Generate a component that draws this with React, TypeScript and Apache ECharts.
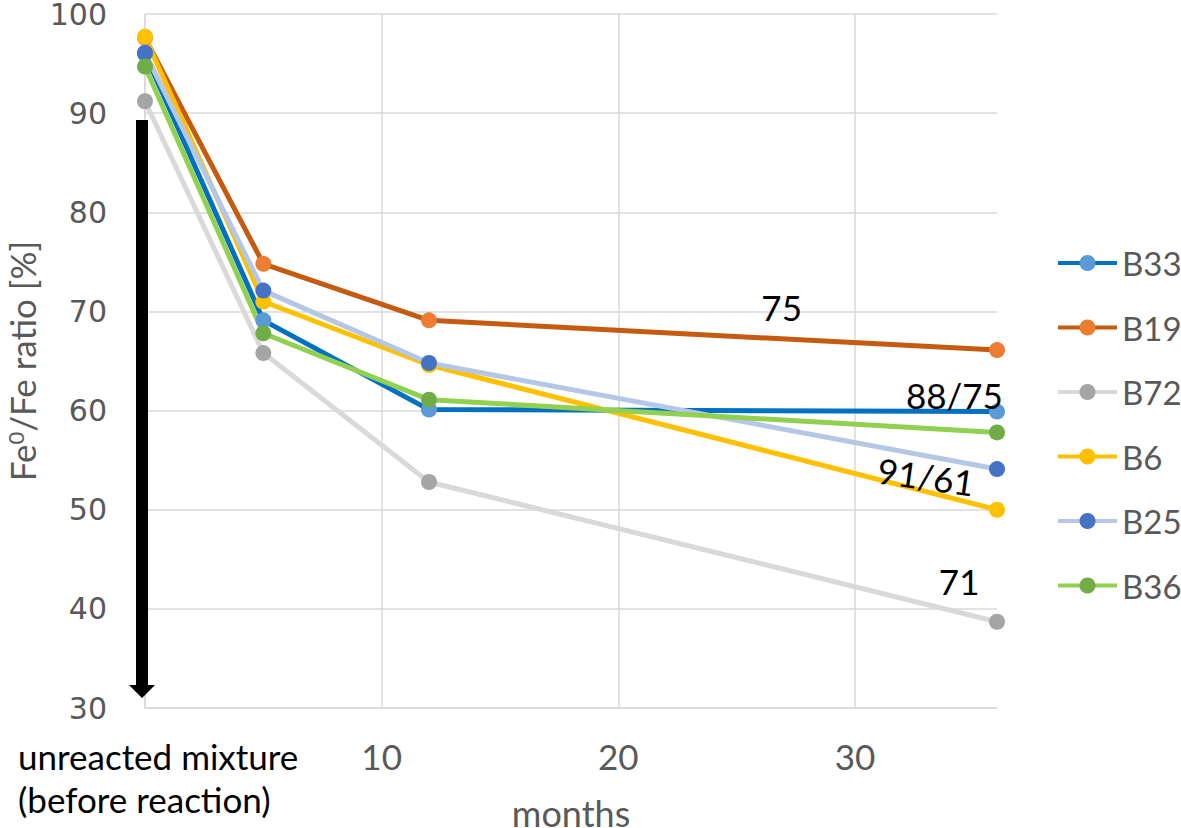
import React, { useEffect, useRef } from "react";
import * as echarts from "echarts";

// x values (months) of the four measurements
const months = [0, 5, 12, 36];
const seriesNames = ["B33", "B19", "B72", "B6", "B25", "B36"];
const b33 = [96.0, 69.1, 60.1, 59.9];
const b19 = [97.6, 74.8, 69.1, 66.1];
const b72 = [91.2, 65.8, 52.8, 38.7];
const b6 = [97.7, 71.0, 64.6, 50.0];
const b25 = [96.1, 72.1, 64.8, 54.1];
const b36 = [94.7, 67.8, 61.1, 57.8];
const allValues = [b33, b19, b72, b6, b25, b36];

const lineColors = ["#0070C0", "#C55A11", "#D9D9D9", "#FFC000", "#B4C7E7", "#92D050"];
const markerColors = ["#5B9BD5", "#ED7D31", "#A5A5A5", "#FFC000", "#4472C4", "#70AD47"];

const firstTickLabel = ["unreacted mixture", "(before reaction)"];
const xAxisName = "months";

// annotations (text, x in months, y in %)
const annotationTexts = ["75", "88/75", "91/61", "71"];
const annotationX = [26.9, 34.2, 33.0, 34.4];
const annotationY = [70.4, 61.6, 53.4, 42.8];
const annotationAngle = [0, 0, -8, 0];

// arrow: from value to value at x = 0
const arrowFrom = 89.3;
const arrowTo = 31.0;

const CAL = "Lato";

export default function App() {
  const ref = useRef<HTMLDivElement>(null);
  useEffect(() => {
    if (!ref.current) return;
    const chart = echarts.init(ref.current, null, { renderer: "svg" });
    const lineSeries = seriesNames.map((name, i) => ({
      name,
      type: "line",
      data: months.map((m, j) => [m, allValues[i][j]]),
      symbol: "circle",
      symbolSize: 16,
      showAllSymbol: true,
      lineStyle: { color: lineColors[i], width: 5 },
      itemStyle: { color: markerColors[i], borderWidth: 0 },
      emphasis: { disabled: true },
      z: 3,
    }));
    chart.setOption({
      animation: false,
      grid: { left: 145, right: 184, top: 14, bottom: 120, containLabel: false, outerBoundsMode: "none" },
      legend: {
        data: seriesNames,
        orient: "vertical",
        left: 1056,
        top: 243,
        padding: 0,
        itemWidth: 59,
        itemHeight: 20,
        itemGap: 24.5,
        lineStyle: { width: 4 },
        textStyle: { fontFamily: CAL, fontSize: 33, color: "#595959", lineHeight: 40 },
      },
      xAxis: {
        type: "value",
        min: 0,
        max: 36,
        interval: 10,
        name: xAxisName,
        nameLocation: "middle",
        nameGap: 90,
        nameMoveOverlap: false,
        nameTextStyle: { fontFamily: CAL, fontSize: 36, color: "#595959", lineHeight: 30 },
        axisLine: { show: true, lineStyle: { color: "#D9D9D9", width: 1.5 } },
        axisTick: { show: false },
        splitLine: { show: true, showMaxLine: false, lineStyle: { color: "#D9D9D9", width: 1.5 } },
        axisLabel: {
          margin: 26,
          fontFamily: CAL,
          fontSize: 35,
          color: "#595959",
          lineHeight: 43,
          formatter: (v: number) => {
            if (v === 0) return firstTickLabel.map((t) => `{u|${t}}`).join("\n");
            if (v % 10 !== 0) return "";
            return String(v);
          },
          rich: {
            u: { fontFamily: CAL, fontSize: 35, color: "#000000", lineHeight: 43, width: 280, align: "left", padding: [0, 0, 0, 26] },
          },
        },
      },
      yAxis: {
        type: "value",
        min: 30,
        max: 100,
        interval: 10,
        name: "Fe{sup|0}/Fe ratio [%]",
        nameLocation: "middle",
        nameGap: 106,
        nameMoveOverlap: false,
        nameTextStyle: {
          fontFamily: CAL,
          fontSize: 35,
          color: "#595959",
          rich: {
            sup: { fontFamily: CAL, fontSize: 22, color: "#595959", verticalAlign: "top", lineHeight: 35 },
          },
        },
        axisLine: { show: true, lineStyle: { color: "#D9D9D9", width: 1.5 } },
        axisTick: { show: false },
        splitLine: { show: true, lineStyle: { color: "#D9D9D9", width: 1.5 } },
        axisLabel: { margin: 38, fontFamily: "DejaVu Sans", fontSize: 30, lineHeight: 28, color: "#595959" },
      },
      series: [
        ...lineSeries,
        {
          name: "arrow",
          type: "custom",
          silent: true,
          z: 5,
          data: [[0, arrowFrom, arrowTo]],
          encode: { x: 0, y: [1, 2] },
          renderItem: (params: any, api: any) => {
            const top = api.coord([api.value(0), api.value(1)]);
            const tip = api.coord([api.value(0), api.value(2)]);
            const cx = top[0] - 3;
            const hw = 6;
            const hh = 13;
            const hl = 13;
            return {
              type: "polygon",
              shape: {
                points: [
                  [cx - hw, top[1]],
                  [cx + hw, top[1]],
                  [cx + hw, tip[1] - hl],
                  [cx + hh, tip[1] - hl],
                  [cx, tip[1]],
                  [cx - hh, tip[1] - hl],
                  [cx - hw, tip[1] - hl],
                ],
              },
              style: { fill: "#000000" },
            };
          },
        },
        {
          name: "notes",
          type: "custom",
          silent: true,
          z: 6,
          data: annotationX.map((x, i) => [x, annotationY[i]]),
          renderItem: (params: any, api: any) => {
            const p = api.coord([api.value(0), api.value(1)]);
            const i = params.dataIndex;
            return {
              type: "text",
              x: p[0],
              y: p[1],
              rotation: (annotationAngle[i] * Math.PI) / 180,
              style: {
                text: annotationTexts[i],
                fontFamily: CAL,
                fontSize: 35,
                fill: "#000000",
                align: "center",
                verticalAlign: "middle",
              },
            };
          },
        },
      ],
    });
    return () => chart.dispose();
  }, []);
  return (
    <div
      ref={ref}
      style={{ position: "absolute", left: 0, top: 0, width: 1181, height: 828, background: "#ffffff" }}
    />
  );
}
